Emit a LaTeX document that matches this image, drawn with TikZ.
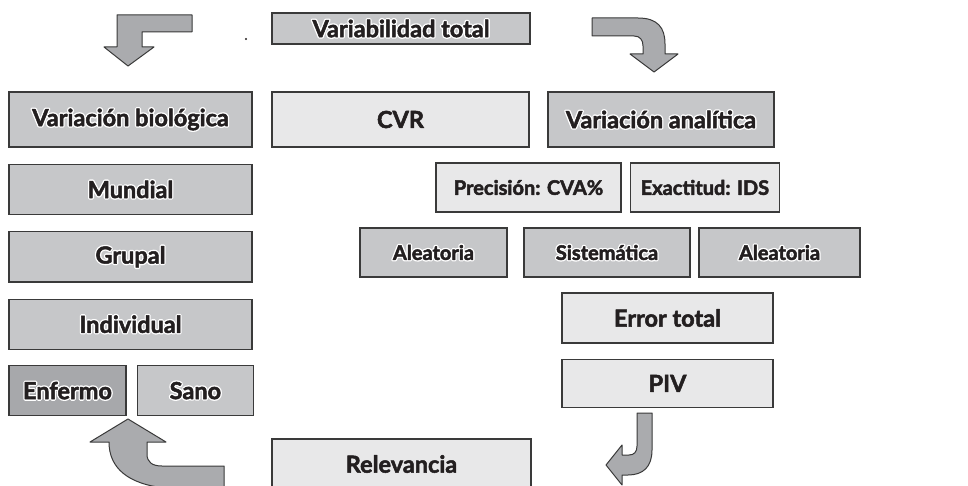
\documentclass[tikz,border=0pt]{standalone}
\usepackage{fontspec}
\setmainfont{Lato}
\usetikzlibrary{positioning}
\definecolor{VTDark}{HTML}{C6C7C9}
\definecolor{VTLight}{HTML}{E8E8E9}
\definecolor{VTDeep}{HTML}{A7A8AB}
\definecolor{VTArrow}{HTML}{AAABAE}
\definecolor{VTLine}{HTML}{3A3A3A}
\definecolor{VTText}{HTML}{231F20}
% texto algo más grueso (relleno + trazo fino)
\newcommand{\heavy}[1]{\special{pdf:literal direct 2 Tr 0.5 w 1 j 0.137 0.122 0.125 RG}#1\special{pdf:literal direct 0 Tr}}
% contorno blanco: una copia trazada detrás del texto
\newcommand{\halo}[1]{\leavevmode\rlap{\special{pdf:literal direct 1 Tr 3.2 w 1 j 1 1 1 RG}#1\special{pdf:literal direct 0 Tr}}\heavy{#1}}

\begin{document}
\begin{tikzpicture}[
    x=1pt, y=-1pt,
    node distance=16pt,
    % estilos
    box/.style={
        draw=VTLine,
        line width=1.4pt,
        inner sep=0pt,
        minimum height=50pt,
        text=VTText,
        font=\fontsize{23.5}{28}\selectfont\bfseries
    },
    darkbox/.style={box, fill=VTDark},
    lightbox/.style={box, fill=VTLight},
    deepbox/.style={box, fill=VTDeep},
    smalltext/.style={font=\fontsize{20}{24}\selectfont\bfseries},
    bigarrow/.style={fill=VTArrow, draw=VTLine, line width=1pt, line join=round}
]
    \useasboundingbox (0,0) rectangle (968,486);
    \clip (0,0) rectangle (968,486);

    % ====== fila superior ======
    \node[darkbox, minimum width=258pt, minimum height=31pt] (total) at (401,28.5) {\halo{Variabilidad total}};
    \fill[VTText] (246,39) circle (1.1pt);

    \node[darkbox, minimum width=243pt, minimum height=55pt] (biol) at (130.5,119.5) {\halo{Variación biológica}};
    \node[lightbox, minimum width=257pt, minimum height=55pt] (cvr) at (400.5,119.5) {\heavy{CVR}};
    \node[darkbox, minimum width=226pt, minimum height=55pt] (anal) at (661,119.5) {\halo{Variación analítica}};

    % ====== columna izquierda: variación biológica ======
    \node[darkbox, minimum width=243pt, below=of biol] (mundial) {\halo{Mundial}};
    \node[darkbox, minimum width=243pt, below=of mundial] (grupal) {\halo{Grupal}};
    \node[darkbox, minimum width=243pt, below=of grupal] (indiv) {\halo{Individual}};
    \node[deepbox, minimum width=117pt, anchor=north west] (enfermo) at ([yshift=-15pt]indiv.south west) {\halo{Enfermo}};
    \node[darkbox, minimum width=116pt, right=10pt of enfermo] (sano) {\halo{Sano}};

    % ====== columna derecha: variación analítica ======
    \node[lightbox, smalltext, minimum width=185pt, minimum height=49pt] (prec) at (528.5,187.5) {\heavy{Precisión: CVA\%}};
    \node[lightbox, smalltext, minimum width=149pt, minimum height=49pt, right=8pt of prec] (exact) {\heavy{Exactitud: IDS}};

    \node[darkbox, smalltext, minimum width=147pt, minimum height=49pt] (aleaA) at (433.5,252.5) {\halo{Aleatoria}};
    \node[darkbox, smalltext, minimum width=166pt, minimum height=49pt] (sist) at (607,252.5) {\halo{Sistemática}};
    \node[darkbox, smalltext, minimum width=161pt, minimum height=49pt] (aleaB) at (779.5,252.5) {\halo{Aleatoria}};

    \node[lightbox, minimum width=211pt] (errtot) at (667.5,318) {\heavy{Error total}};
    \node[lightbox, minimum width=211pt, minimum height=48pt, below=15pt of errtot] (piv) {\heavy{PIV}};

    \node[lightbox, minimum width=259pt] (relev) at (401.5,464) {\heavy{Relevancia}};

    % ====== flechas ======
    % arriba izquierda
    \draw[bigarrow] (117,15) -- (192,15) -- (192,32) -- (142,32) -- (142,47) -- (154,47)
        -- (128,66) -- (104,47) -- (117,47) -- cycle;
    % arriba derecha
    \draw[bigarrow] (592,18) -- (638,18) .. controls (658,18) and (665,28) .. (665,44) -- (665,54)
        -- (678,54) -- (654,72) -- (630,54) -- (643,54) -- (643,46)
        .. controls (643,40) and (640,36) .. (634,36) -- (592,36) -- cycle;
    % abajo derecha
    \draw[bigarrow] (637,413) -- (652,413) -- (652,450) .. controls (652,467) and (643,475) .. (628,475)
        -- (622,475) -- (622,485) -- (606,465) -- (622,445) -- (622,455) -- (629,455)
        .. controls (634,455) and (637,452) .. (637,446) -- cycle;
    % abajo izquierda
    \draw[bigarrow] (128,419) -- (166,442) -- (147,442) -- (147,454)
        .. controls (147,462) and (152,466) .. (162,466) -- (224,466) -- (224,490) -- (165,488)
        .. controls (128,484) and (109,468) .. (109,442) -- (90,442) -- cycle;

\end{tikzpicture}
\end{document}
